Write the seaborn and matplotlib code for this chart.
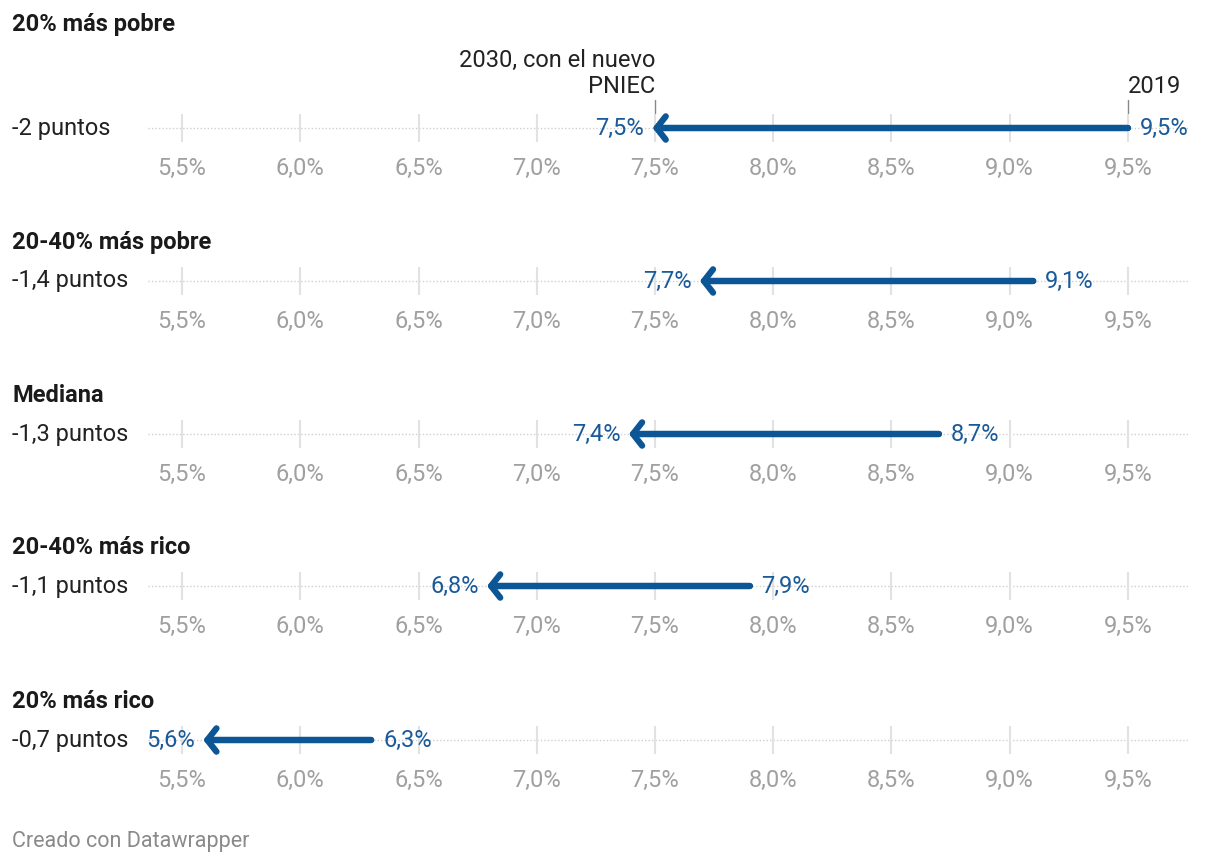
import matplotlib
matplotlib.use("Agg")
import matplotlib.pyplot as plt
import seaborn as sns
import pandas as pd

# Datos
grupos = ["20% más pobre", "20-40% más pobre", "Mediana", "20-40% más rico", "20% más rico"]
valor_2019 = [9.5, 9.1, 8.7, 7.9, 6.3]
valor_2030 = [7.5, 7.7, 7.4, 6.8, 5.6]
ticks = [5.5, 6.0, 6.5, 7.0, 7.5, 8.0, 8.5, 9.0, 9.5]

sns.set_theme(style="white")
plt.rcParams['font.family'] = ['Roboto', 'DejaVu Sans']

azul = "#0d5696"
azul_txt = "#1a5a9a"
gris = "#a0a0a0"
fs = 17

W, H = 1220, 866
fig = plt.figure(figsize=(W / 100, H / 100), dpi=100)

def pct(v):
    return f"{v:.1f}%".replace(".", ",")

fila_y = [128, 281, 434, 586, 740]
titulo_y = [24, 242, 396, 548, 702]
x0_px, x1_px = 148, 1188
xmin, xmax = 5.356, 9.754

for i, g in enumerate(grupos):
    yc = fila_y[i]
    ax = fig.add_axes([x0_px / W, (H - yc - 14) / H, (x1_px - x0_px) / W, 28 / H])
    ax.set_xlim(xmin, xmax)
    ax.set_ylim(-1, 1)
    sns.despine(ax=ax, left=True, bottom=True)
    ax.axhline(0, color="#cfcfcf", lw=1, ls=(0, (1, 1.5)), zorder=1)
    ax.vlines(ticks, -1, 1, color="#e2e2e2", lw=1.5, zorder=1)
    ax.set_yticks([])
    ax.set_xticks(ticks)
    ax.set_xticklabels([pct(t) for t in ticks], color=gris, fontsize=fs)
    ax.tick_params(axis="x", length=0, pad=11)

    ini, fin = valor_2019[i], valor_2030[i]
    df = pd.DataFrame({"x": [ini, fin + 0.01], "y": [0, 0]})
    sns.lineplot(data=df, x="x", y="y", ax=ax, color=azul, lw=4.5,
                 solid_capstyle="round", zorder=3, legend=False)
    ax.annotate("", xy=(fin - 0.01, 0), xytext=(ini, 0),
                arrowprops=dict(arrowstyle="->,head_length=0.33,head_width=0.42",
                                mutation_scale=20, color=azul, lw=4.5,
                                shrinkA=0, shrinkB=0,
                                joinstyle="round", capstyle="round"),
                zorder=4)
    ax.set_xlabel("")
    ax.set_ylabel("")

    ax.text(fin - 0.045, 0, pct(fin), color=azul_txt, fontsize=fs,
            ha="right", va="center", zorder=5)
    ax.text(ini + 0.05, 0, pct(ini), color=azul_txt, fontsize=fs,
            ha="left", va="center", zorder=5)

    dif = round(fin - ini, 1)
    etiqueta = f"{dif:g}".replace(".", ",") + " puntos"
    fig.text(12 / W, 1 - yc / H, etiqueta, fontsize=fs, color="#222222",
             ha="left", va="center")
    fig.text(12 / W, 1 - titulo_y[i] / H, g, fontsize=fs, weight="bold",
             color="#1a1a1a", ha="left", va="center")

    if i == 0:
        ax.text(fin, 2.15, "2030, con el nuevo\nPNIEC", fontsize=fs, color="#222222",
                ha="right", va="bottom", linespacing=1.15)
        ax.plot([fin, fin], [1.1, 2.0], color="#888888", lw=1, clip_on=False)
        ax.text(ini, 2.15, "2019", fontsize=fs, color="#222222", ha="left", va="bottom")
        ax.plot([ini, ini], [1.1, 2.0], color="#888888", lw=1, clip_on=False)

fig.text(12 / W, 1 - 842 / H, "Creado con Datawrapper", fontsize=15.5, color="#8a8a8a",
         ha="left", va="center")

fig.savefig("out.png", dpi=100)
